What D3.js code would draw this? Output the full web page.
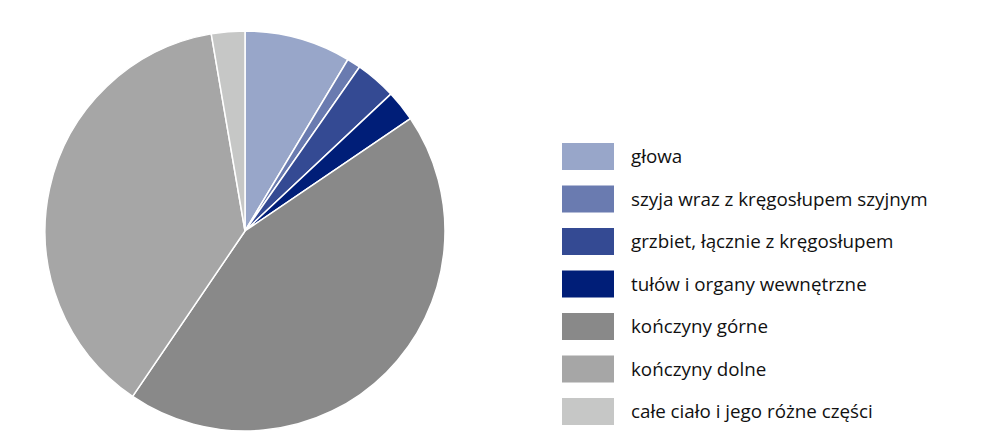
<!DOCTYPE html>
<html>

<head>
    <meta charset="utf-8">
    <script src="https://d3js.org/d3.v7.min.js"></script>
    <style>
        body { margin: 0; background: #fff; }
    </style>
</head>

<body>
    <div id="chart"></div>

    <script>
        // data (shares in %)
        const categories = [
            "głowa",
            "szyja wraz z kręgosłupem szyjnym",
            "grzbiet, łącznie z kręgosłupem",
            "tułów i organy wewnętrzne",
            "kończyny górne",
            "kończyny dolne",
            "całe ciało i jego różne części"
        ];
        const values = [8.6, 1.1, 3.3, 2.5, 44.0, 37.8, 2.7];
        const colors = ["#98a6c9", "#6a7bb0", "#344a93", "#001e78", "#898989", "#a6a6a6", "#c6c7c6"];

        const width = 984, height = 439;
        const cx = 245, cy = 231, radius = 200;

        const svg = d3.select("#chart")
            .append("svg")
            .attr("width", width)
            .attr("height", height);

        const data = categories.map((c, i) => ({ name: c, value: values[i] }));

        const color = d3.scaleOrdinal()
            .domain(categories)
            .range(colors);

        const pie = d3.pie()
            .sort(null)
            .value(d => d.value);

        const arc = d3.arc()
            .innerRadius(0)
            .outerRadius(radius);

        const g = svg.append("g")
            .attr("transform", `translate(${cx},${cy})`);

        g.selectAll("path")
            .data(pie(data))
            .join("path")
            .attr("d", arc)
            .attr("fill", d => color(d.data.name))
            .attr("stroke", "#fff")
            .attr("stroke-width", 1.5);

        // legend
        const legend = svg.append("g")
            .attr("transform", "translate(562,143)");

        const item = legend.selectAll("g")
            .data(categories)
            .join("g")
            .attr("transform", (d, i) => `translate(0,${i * 42.5})`);

        item.append("rect")
            .attr("width", 52)
            .attr("height", 27)
            .attr("fill", d => color(d));

        item.append("text")
            .attr("x", 69)
            .attr("y", 13.5)
            .attr("dy", "0.35em")
            .style("font-family", "'Open Sans', sans-serif")
            .style("font-size", "18.8px")
            .style("fill", "#111")
            .text(d => d);
    </script>

</body>

</html>
